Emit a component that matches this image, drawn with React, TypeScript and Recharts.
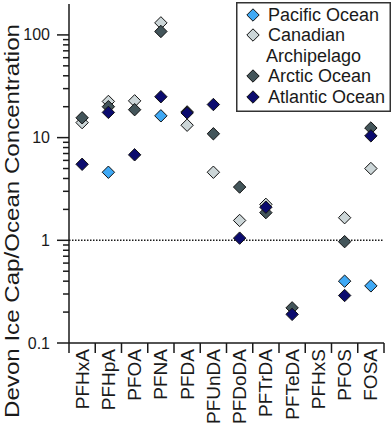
import { ScatterChart, Scatter, XAxis, YAxis, ReferenceLine, Legend } from "recharts";

const compounds = ["PFHxA", "PFHpA", "PFOA", "PFNA", "PFDA", "PFUnDA", "PFDoDA", "PFTrDA", "PFTeDA", "PFHxS", "PFOS", "FOSA"];

// Devon Ice Cap / ocean concentration ratios (null = not shown)
const pacific = [null, 4.6, null, 16.3, null, null, null, null, null, null, 0.4, 0.36];
const canadian = [14, 22.5, 22.8, 131, 13.2, 4.6, 1.56, 2.24, null, null, 1.66, 5.0];
const arctic = [15.6, 20, 18.7, 108, 17.8, 10.9, 3.3, 1.86, 0.22, null, 0.97, 12.4];
const atlantic = [5.5, 17.6, 6.8, 25, 17.4, 21, 1.05, 2.1, 0.19, null, 0.29, 10.4];

const majorTicks = [0.1, 1, 10, 100];
const minorTicks = [0.2, 0.3, 0.4, 0.5, 0.6, 0.7, 0.8, 0.9, 2, 3, 4, 5, 6, 7, 8, 9, 20, 30, 40, 50, 60, 70, 80, 90];
const boundaryTicks = [0, 1, 2, 3, 4, 5, 6, 7, 8, 9, 10, 11, 12];
const centerTicks = [0.5, 1.5, 2.5, 3.5, 4.5, 5.5, 6.5, 7.5, 8.5, 9.5, 10.5, 11.5];

const series = [
    { name: "Pacific Ocean", values: pacific, color: "#3fa9f5" },
    { name: "Canadian Archipelago", values: canadian, color: "#ccd6d8" },
    { name: "Arctic Ocean", values: arctic, color: "#43555a" },
    { name: "Atlantic Ocean", values: atlantic, color: "#0b0b6e" },
];

const INK = "#1a1a1a";

const toPoints = (values: (number | null)[]) =>
    values
        .map((v, i) => (v == null ? null : { x: i + 0.5, y: v }))
        .filter((p) => p !== null);

const Diamond = ({ cx, cy, fill }: any) => {
    const r = 6.2;
    return (
        <polygon
            points={`${cx},${cy - r} ${cx + r},${cy} ${cx},${cy + r} ${cx - r},${cy}`}
            fill={fill}
            stroke="#111"
            strokeWidth={1}
        />
    );
};

const YTick = ({ x, y, payload }: any) => {
    const major = majorTicks.includes(payload.value);
    return (
        <g>
            <line x1={x - (major ? 12 : 6)} x2={x} y1={y} y2={y} stroke={INK} strokeWidth={1.5} />
            {major && (
                <text x={x - 19} y={y} textAnchor="end" dominantBaseline="central" fontSize={16} fill={INK}>
                    {payload.value}
                </text>
            )}
        </g>
    );
};

const XTick = ({ x, y, payload }: any) => {
    const v = payload.value;
    if (Number.isInteger(v)) {
        return <line x1={x} x2={x} y1={y} y2={y + 10} stroke={INK} strokeWidth={1.5} />;
    }
    return (
        <text
            transform={`translate(${x},${y + 6}) rotate(-90)`}
            textAnchor="end"
            dominantBaseline="central"
            fontSize={19}
            fill={INK}
        >
            {compounds[Math.floor(v)]}
        </text>
    );
};

const YTitle = () => (
    <text
        transform="translate(19,221) rotate(-90)"
        textAnchor="middle"
        fontSize={20.5}
        fill={INK}
        textLength={394}
        lengthAdjust="spacingAndGlyphs"
    >
        Devon Ice Cap/Ocean Concentration
    </text>
);

const LegendBox = () => {
    const rows = [13, 33, 74, 95];
    return (
        <svg width={155} height={110} style={{ display: "block" }}>
            <rect x={0.75} y={0.75} width={153.5} height={108.5} fill="#fff" stroke="#333" strokeWidth={1.5} />
            {series.map((s, i) => (
                <g key={s.name}>
                    <Diamond cx={17} cy={rows[i]} fill={s.color} />
                    <text x={32} y={rows[i]} dominantBaseline="central" fontSize={18} fill={INK}>
                        {s.name === "Canadian Archipelago" ? "Canadian" : s.name}
                    </text>
                </g>
            ))}
            <text x={30} y={54} dominantBaseline="central" fontSize={18} fill={INK}>
                Archipelago
            </text>
        </svg>
    );
};

export default function App() {
    return (
        <div style={{ position: "absolute", left: 0, top: 0, background: "#fff" }}>
            <ScatterChart
                width={392}
                height={429}
                margin={{ top: 4, right: 8, bottom: 0, left: 0 }}
                style={{ fontFamily: "'Liberation Sans', Arial, sans-serif" }}
            >
                <XAxis
                    type="number"
                    dataKey="x"
                    domain={[0, 12]}
                    ticks={[...boundaryTicks, ...centerTicks]}
                    interval={0}
                    height={86}
                    tickSize={0}
                    tickMargin={0}
                    tick={<XTick />}
                    axisLine={{ stroke: INK, strokeWidth: 1.5 }}
                    allowDataOverflow
                />
                <YAxis
                    type="number"
                    dataKey="y"
                    scale="log"
                    domain={[0.1, 200]}
                    ticks={[...majorTicks, ...minorTicks]}
                    interval={0}
                    width={69}
                    tickSize={0}
                    tickMargin={0}
                    tick={<YTick />}
                    axisLine={{ stroke: INK, strokeWidth: 1.5 }}
                    label={<YTitle />}
                    allowDataOverflow
                />
                <ReferenceLine y={1} stroke={INK} strokeWidth={1.5} strokeDasharray="1.5 1.5" />
                {series.map((s) => (
                    <Scatter
                        key={s.name}
                        name={s.name}
                        data={toPoints(s.values)}
                        fill={s.color}
                        shape={<Diamond />}
                        isAnimationActive={false}
                    />
                ))}
                <Legend
                    layout="horizontal"
                    verticalAlign="middle"
                    align="center"
                    content={<LegendBox />}
                    wrapperStyle={{ left: 236, top: 2, width: 155, height: 110 }}
                />
            </ScatterChart>
        </div>
    );
}
